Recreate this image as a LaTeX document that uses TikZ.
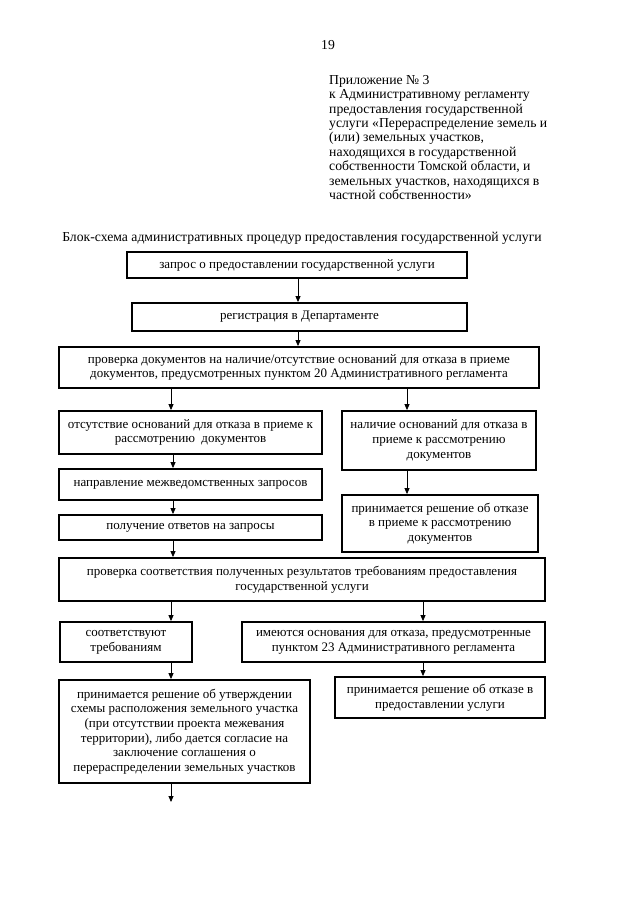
\documentclass[tikz,border=0pt]{standalone}
\usepackage{fontspec}
\setmainfont{Liberation Serif}
\usetikzlibrary{arrows.meta}
\begin{document}
\begin{tikzpicture}[x=1pt,y=-1pt,
  box/.style={draw, line width=1.8pt, fill=white, align=center, inner sep=0pt, font=\fontsize{13}{14.7}\selectfont},
  arr/.style={-{Triangle[length=6pt,width=5pt]}, line width=0.8pt},
  txt/.style={inner sep=0pt, font=\fontsize{13.7}{14.4}\selectfont}]
\useasboundingbox[fill=white] (0,0) rectangle (640,905);
\node[txt] (pg) at (328,45) {19};
\node[txt, align=left, anchor=north west] (hdr) at (329,75) {Приложение № 3\\к Административному регламенту\\предоставления государственной\\услуги «Перераспределение земель и\\(или) земельных участков,\\находящихся в государственной\\собственности Томской области, и\\земельных участков, находящихся в\\частной собственности»};
\node[txt] (title) at (302,238) {Блок-схема административных процедур предоставления государственной услуги};

\node[box, minimum width=340pt, minimum height=26pt] (b1) at (297,265) {запрос о предоставлении государственной услуги};
\node[box, minimum width=335pt, minimum height=28pt] (b2) at (299.5,317) {регистрация в Департаменте};
\node[box, minimum width=480pt, minimum height=41pt] (b3) at (299,367.5) {проверка документов на наличие/отсутствие оснований для отказа в приеме\\документов, предусмотренных пунктом 20 Административного регламента};
\node[box, minimum width=263pt, minimum height=43pt] (b4l) at (190.5,432.5) {отсутствие оснований для отказа в приеме к\\рассмотрению\ \ документов};
\node[box, minimum width=194pt, minimum height=59pt] (b4r) at (439,440.5) {наличие оснований для отказа в\\приеме к рассмотрению\\документов};
\node[box, minimum width=263pt, minimum height=31pt] (b5l) at (190.5,484.5) {направление межведомственных запросов};
\node[box, minimum width=196pt, minimum height=57pt] (b5r) at (440,523.5) {принимается решение об отказе\\в приеме к рассмотрению\\документов};
\node[box, minimum width=263pt, minimum height=25pt] (b6l) at (190.5,527.5) {получение ответов на запросы};
\node[box, minimum width=486pt, minimum height=43pt] (b7) at (302,579.5) {проверка соответствия полученных результатов требованиям предоставления\\государственной услуги};
\node[box, minimum width=132pt, minimum height=40pt] (b8l) at (126,642) {соответствуют\\требованиям};
\node[box, minimum width=303pt, minimum height=40pt] (b8r) at (393.5,642) {имеются основания для отказа, предусмотренные\\пунктом 23 Административного регламента};
\node[box, minimum width=251pt, minimum height=103pt] (b9l) at (184.5,731.5) {принимается решение об утверждении\\схемы расположения земельного участка\\(при отсутствии проекта межевания\\территории), либо дается согласие на\\заключение соглашения о\\перераспределении земельных участков};
\node[box, minimum width=210pt, minimum height=41pt] (b9r) at (440,697.5) {принимается решение об отказе в\\предоставлении услуги};

\coordinate (xm) at (298,0);
\coordinate (xl) at (171,0);
\coordinate (xl2) at (173,0);
\coordinate (xr) at (407,0);
\coordinate (xr2) at (423,0);
\coordinate (endp) at (171,802);

\draw[arr] (b1.south -| xm) -- (b2.north -| xm);
\draw[arr] (b2.south -| xm) -- (b3.north -| xm);
\draw[arr] (b3.south -| xl) -- (b4l.north -| xl);
\draw[arr] (b3.south -| xr) -- (b4r.north -| xr);
\draw[arr] (b4l.south -| xl2) -- (b5l.north -| xl2);
\draw[arr] (b5l.south -| xl2) -- (b6l.north -| xl2);
\draw[arr] (b6l.south -| xl2) -- (b7.north -| xl2);
\draw[arr] (b4r.south -| xr) -- (b5r.north -| xr);
\draw[arr] (b7.south -| xl) -- (b8l.north -| xl);
\draw[arr] (b7.south -| xr2) -- (b8r.north -| xr2);
\draw[arr] (b8l.south -| xl) -- (b9l.north -| xl);
\draw[arr] (b8r.south -| xr2) -- (b9r.north -| xr2);
\draw[arr] (b9l.south -| xl) -- (endp);
\end{tikzpicture}
\end{document}
